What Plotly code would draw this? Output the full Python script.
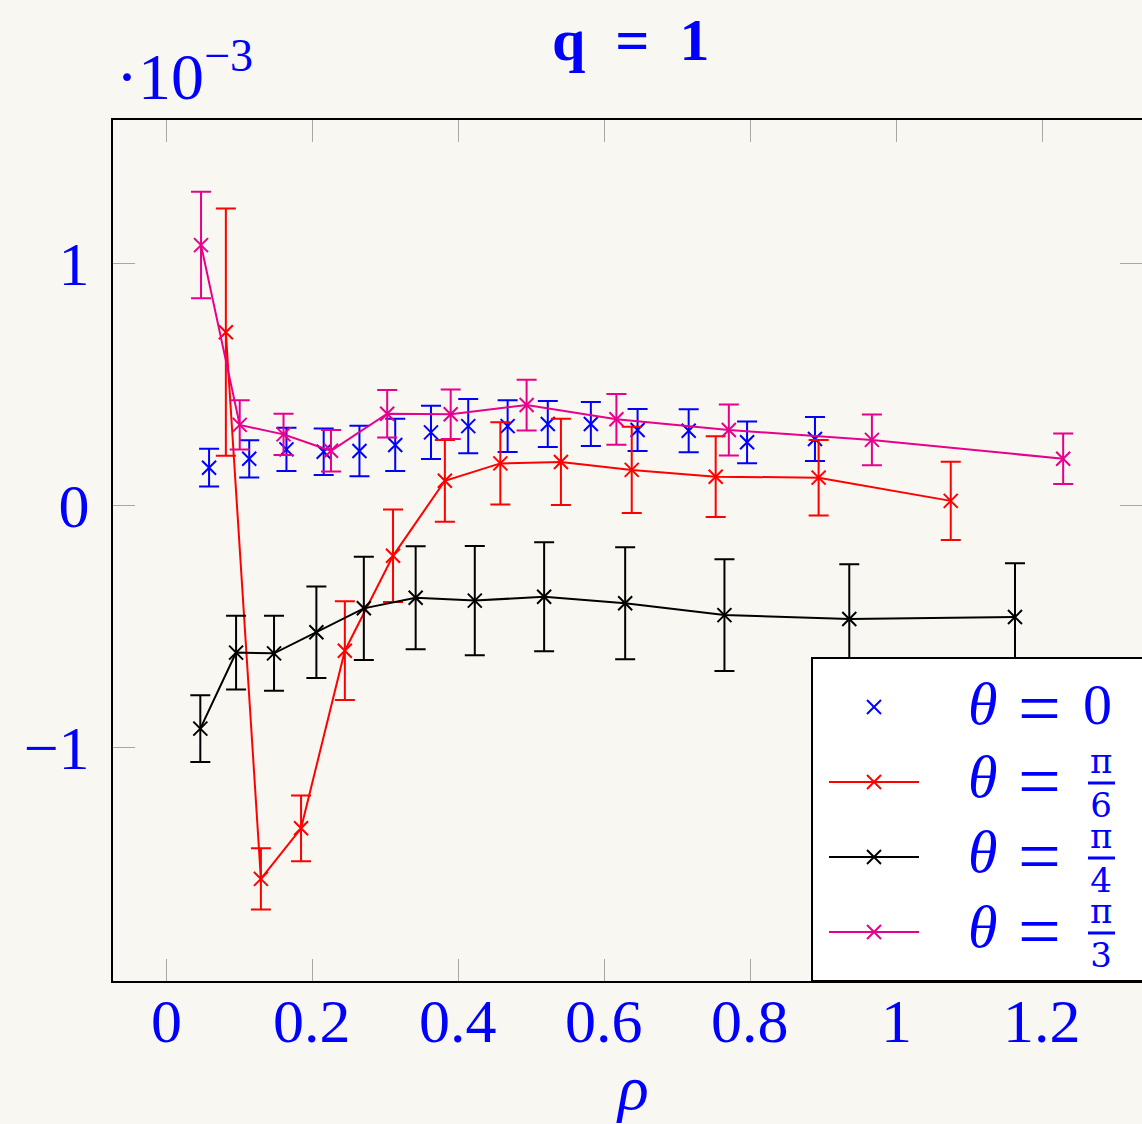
import plotly.graph_objects as go

# ---------------- data (y values in units of 1e-3) ----------------
rho_0 = [0.059, 0.114, 0.165, 0.216, 0.265, 0.314, 0.363, 0.414, 0.468, 0.523, 0.582, 0.646, 0.716, 0.796, 0.889]
val_0 = [0.154, 0.191, 0.230, 0.220, 0.223, 0.248, 0.300, 0.326, 0.326, 0.335, 0.335, 0.310, 0.307, 0.259, 0.273]
err_0 = [0.078, 0.077, 0.089, 0.096, 0.104, 0.108, 0.110, 0.112, 0.107, 0.095, 0.091, 0.087, 0.089, 0.086, 0.091]

rho_pi6 = [0.082, 0.130, 0.185, 0.245, 0.311, 0.382, 0.458, 0.541, 0.638, 0.753, 0.894, 1.075]
val_pi6 = [0.714, -1.545, -1.336, -0.602, -0.210, 0.100, 0.172, 0.178, 0.145, 0.117, 0.113, 0.017]
err_pi6 = [0.511, 0.127, 0.136, 0.204, 0.191, 0.169, 0.170, 0.178, 0.178, 0.167, 0.156, 0.162]

rho_pi4 = [0.047, 0.096, 0.148, 0.206, 0.271, 0.342, 0.423, 0.518, 0.629, 0.765, 0.936, 1.163]
val_pi4 = [-0.924, -0.610, -0.613, -0.526, -0.427, -0.383, -0.395, -0.379, -0.406, -0.455, -0.471, -0.463]
err_pi4 = [0.138, 0.152, 0.155, 0.189, 0.213, 0.213, 0.226, 0.225, 0.231, 0.231, 0.226, 0.222]

rho_pi3 = [0.048, 0.101, 0.161, 0.226, 0.303, 0.390, 0.494, 0.617, 0.771, 0.967, 1.229]
val_pi3 = [1.074, 0.331, 0.292, 0.224, 0.377, 0.375, 0.413, 0.354, 0.310, 0.269, 0.191]
err_pi3 = [0.220, 0.102, 0.085, 0.086, 0.098, 0.102, 0.105, 0.105, 0.105, 0.105, 0.104]

x_ticks = [0, 0.2, 0.4, 0.6, 0.8, 1.0, 1.2]
x_tick_labels = ["0", "0.2", "0.4", "0.6", "0.8", "1", "1.2"]
y_ticks = [-1, 0, 1]
y_tick_labels = ["\u22121", "0", "1"]

legend_names = ["0", "\u03c0/6", "\u03c0/4", "\u03c0/3"]
legend_den = [None, "6", "4", "3"]

title_text = "<b>q\u2002=\u20021</b>"
scale_text = "\u00b710<sup>\u22123</sup>"
x_label = "<i>\u03c1</i>"

# ---------------- styles ----------------
BLUE = "#0000ff"
RED = "#ff0000"
BLACK = "#000000"
MAGENTA = "#e6008c"
BG = "#f8f7f1"
FONT = "Liberation Serif"

W, H = 1142, 1124
ML, MR, MT, MB = 113, 0, 120, 143

def px_x(px):
    return (px - ML) / (W - ML - MR)

def px_y(py):
    return (H - MB - py) / (H - MT - MB)

fig = go.Figure()

series = [
    (rho_0, val_0, err_0, BLUE, "markers"),
    (rho_pi6, val_pi6, err_pi6, RED, "lines+markers"),
    (rho_pi4, val_pi4, err_pi4, BLACK, "lines+markers"),
    (rho_pi3, val_pi3, err_pi3, MAGENTA, "lines+markers"),
]
for (xs, ys, es, col, mode), name in zip(series, legend_names):
    fig.add_trace(go.Scatter(
        x=xs, y=ys, mode=mode, name="\u03b8 = " + name,
        line=dict(color=col, width=2),
        marker=dict(symbol="x-thin", size=14, line=dict(color=col, width=2), color=col),
        error_y=dict(type="data", array=es, visible=True, color=col, thickness=2, width=10),
        showlegend=False, cliponaxis=True,
    ))

fig.update_layout(
    width=W, height=H,
    margin=dict(l=ML, r=MR, t=MT, b=MB, autoexpand=False),
    paper_bgcolor=BG, plot_bgcolor=BG,
    font=dict(family=FONT, color=BLUE, size=62),
    xaxis=dict(
        range=[(ML - 166) / 730, (W - MR - 166) / 730],
        tickvals=x_ticks, ticktext=x_tick_labels,
        ticks="inside", ticklen=22, tickwidth=1, tickcolor="#a8a8a8",
        showline=True, linecolor=BLACK, linewidth=2, mirror="ticks",
        showgrid=False, zeroline=False, showticklabels=False,
    ),
    yaxis=dict(
        range=[(505 - 981) / 242, (505 - 120) / 242],
        tickvals=y_ticks, ticktext=y_tick_labels,
        ticks="inside", ticklen=22, tickwidth=1, tickcolor="#a8a8a8",
        showline=True, linecolor=BLACK, linewidth=2, mirror="ticks",
        showgrid=False, zeroline=False,
        tickfont=dict(family=FONT, size=62, color=BLUE),
        ticklabelstandoff=9,
    ),
)

shapes = []
annotations = []

# x tick labels
for tv, tl in zip(x_ticks, x_tick_labels):
    annotations.append(dict(xref="x", yref="paper", x=tv, y=px_y(1021),
                            text=tl, showarrow=False, xanchor="center", yanchor="middle",
                            font=dict(family=FONT, size=62, color=BLUE)))

# legend box
shapes.append(dict(type="rect", xref="paper", yref="paper",
                   x0=px_x(812), x1=px_x(1160), y0=px_y(981), y1=px_y(658),
                   fillcolor="white", line=dict(color=BLACK, width=2), layer="above"))

row_y = [707, 782, 857, 932]
text_y = [704, 777, 852, 927]
bar_ys = [None, 783, 858, 933]
colors = [BLUE, RED, BLACK, MAGENTA]
for i, (ry, col) in enumerate(zip(row_y, colors)):
    if i > 0:
        shapes.append(dict(type="line", xref="paper", yref="paper",
                           x0=px_x(829), x1=px_x(919), y0=px_y(ry), y1=px_y(ry),
                           line=dict(color=col, width=2), layer="above"))
    # x marker drawn as two strokes
    for d in (1, -1):
        shapes.append(dict(type="line", xref="paper", yref="paper",
                           xsizemode="pixel", ysizemode="pixel",
                           xanchor=px_x(874), yanchor=px_y(ry),
                           x0=-7, x1=7, y0=-7 * d, y1=7 * d,
                           line=dict(color=col, width=2), layer="above"))
    ty = text_y[i]
    annotations.append(dict(xref="paper", yref="paper", x=px_x(982), y=px_y(ty),
                            text="<i>\u03b8</i>", showarrow=False, xanchor="center", yanchor="middle",
                            font=dict(family=FONT, size=60, color=BLUE)))
    annotations.append(dict(xref="paper", yref="paper", x=px_x(1039), y=px_y(ty + 4),
                            text="=", showarrow=False, xanchor="center", yanchor="middle",
                            font=dict(family=FONT, size=76, color=BLUE)))
    if legend_den[i] is None:
        annotations.append(dict(xref="paper", yref="paper", x=px_x(1097), y=px_y(ty),
                                text="0", showarrow=False, xanchor="center", yanchor="middle",
                                font=dict(family=FONT, size=58, color=BLUE)))
    else:
        bar_y = bar_ys[i]
        shapes.append(dict(type="line", xref="paper", yref="paper",
                           x0=px_x(1088), x1=px_x(1115), y0=px_y(bar_y), y1=px_y(bar_y),
                           line=dict(color=BLUE, width=3), layer="above"))
        annotations.append(dict(xref="paper", yref="paper", x=px_x(1101), y=px_y(bar_y),
                                text="\u03c0<br>" + legend_den[i], showarrow=False,
                                xanchor="center", yanchor="middle",
                                font=dict(family="DejaVu Serif", size=34, color=BLUE)))

# title, scale factor, x label
annotations.append(dict(xref="paper", yref="paper", x=px_x(631), y=px_y(40),
                        text=title_text, showarrow=False, xanchor="center", yanchor="middle",
                        font=dict(family=FONT, size=60, color=BLUE)))
annotations.append(dict(xref="paper", yref="paper", x=px_x(114), y=px_y(115),
                        text=scale_text, showarrow=False, xanchor="left", yanchor="bottom",
                        font=dict(family=FONT, size=66, color=BLUE)))
annotations.append(dict(xref="paper", yref="paper", x=px_x(632), y=px_y(1050),
                        text=x_label, showarrow=False, xanchor="center", yanchor="top",
                        font=dict(family=FONT, size=64, color=BLUE)))

fig.update_layout(shapes=shapes, annotations=annotations)

fig.write_html("out.html")
